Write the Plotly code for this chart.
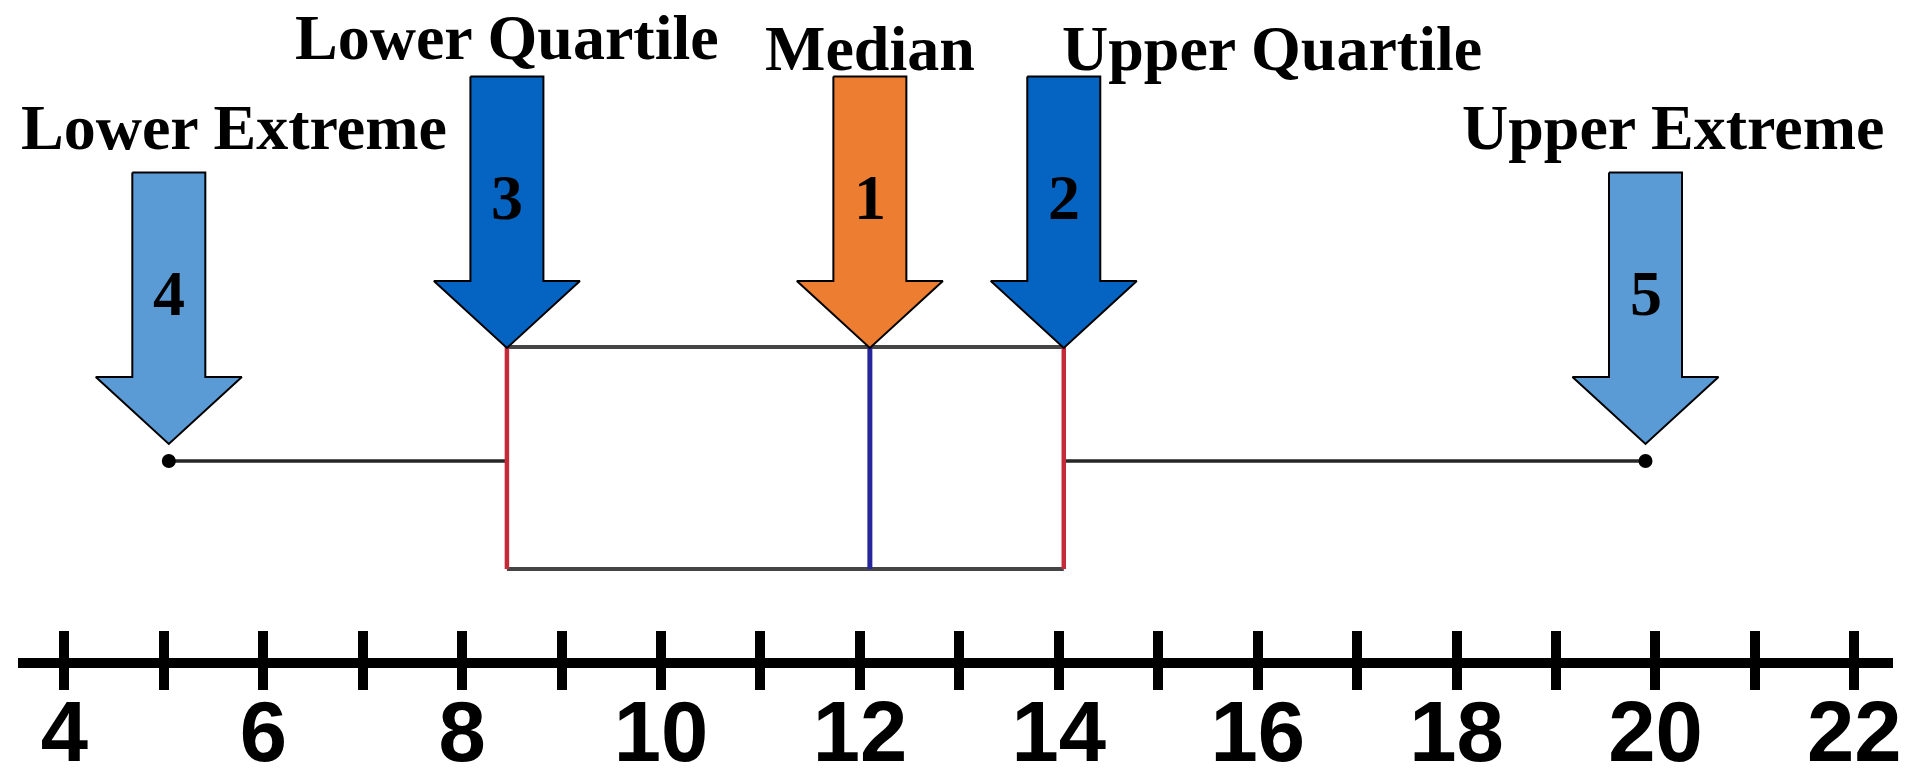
import plotly.graph_objects as go

# ---------------- data ----------------
tick_values = list(range(4, 23))                      # every integer on the number line
tick_labels = [str(v) if v % 2 == 0 else "" for v in tick_values]

stat_names = ["Lower Extreme", "Lower Quartile", "Median", "Upper Quartile", "Upper Extreme"]
stat_values = [5.05, 8.45, 12.1, 14.05, 19.9]
stat_order = ["4", "3", "1", "2", "5"]                # number written in each arrow
arrow_colors = ["#5B9BD5", "#0563C1", "#ED7D31", "#0563C1", "#5B9BD5"]

lower_ext, q1, median, q3, upper_ext = stat_values

# ---------------- layout geometry ----------------
W, H = 1916, 782
ML, MR = 18, 23
X_RANGE = [3.5334, 22.3889]
PPU = (W - ML - MR) / (X_RANGE[1] - X_RANGE[0])      # pixels per unit on x

AXIS_ROW = 663          # pixel row of the number line
LABEL_ROW = 675         # pixel row of the tick-label axis
BOX_TOP, BOX_BOTTOM, WHISKER_Y = 347, 569, 461
ARROW_TIP_Y = [444, 348, 348, 348, 444]
ARROW_LEN, HEAD_H, HEAD_HALF, SHAFT_HALF = 271.5, 67, 73, 36.5
LABEL_Y = [127, 37, 48, 48, 127]
LABEL_DX = [65, 0, 0, 208, 27]

SERIF = dict(family="Liberation Serif", size=64, color="black", weight="bold")

fig = go.Figure()

# whiskers
for xs in ([lower_ext, q1], [q3, upper_ext]):
    fig.add_trace(go.Scatter(x=xs, y=[WHISKER_Y, WHISKER_Y], mode="lines",
                             line=dict(color="#262626", width=3.5),
                             hoverinfo="skip", showlegend=False))
# box top / bottom
for yy in (BOX_TOP, BOX_BOTTOM):
    fig.add_trace(go.Scatter(x=[q1, q3], y=[yy, yy], mode="lines",
                             line=dict(color="#454545", width=4),
                             hoverinfo="skip", showlegend=False))
# quartile edges (red) and median (blue)
for xv, col, w in ((q1, "#C42A3A", 4.5), (q3, "#C42A3A", 4.5), (median, "#26269A", 5)):
    fig.add_trace(go.Scatter(x=[xv, xv], y=[BOX_TOP, BOX_BOTTOM], mode="lines",
                             line=dict(color=col, width=w),
                             hoverinfo="skip", showlegend=False))
# extreme points
fig.add_trace(go.Scatter(x=[lower_ext, upper_ext], y=[WHISKER_Y, WHISKER_Y], mode="markers",
                         marker=dict(color="black", size=14),
                         hoverinfo="skip", showlegend=False))

# arrows
hh = HEAD_HALF / PPU
sh = SHAFT_HALF / PPU
for v, tip, col, num, name, ly, dx in zip(stat_values, ARROW_TIP_Y, arrow_colors,
                                          stat_order, stat_names, LABEL_Y, LABEL_DX):
    top = tip - ARROW_LEN
    base = tip - HEAD_H
    xs = [v - sh, v + sh, v + sh, v + hh, v, v - hh, v - sh, v - sh]
    ys = [top, top, base, base, tip, base, base, top]
    fig.add_trace(go.Scatter(x=xs, y=ys, mode="lines", fill="toself", fillcolor=col,
                             line=dict(color="black", width=2),
                             hoverinfo="skip", showlegend=False))
    fig.add_annotation(x=v, y=tip - 151, text=num, showarrow=False,
                       xanchor="center", yanchor="middle", font=SERIF)
    fig.add_annotation(x=v + dx / PPU, y=ly, text=name, showarrow=False,
                       xanchor="center", yanchor="middle", font=SERIF)

# invisible traces so the overlay axes are drawn
for ax in ("x2", "x3"):
    fig.add_trace(go.Scatter(x=[tick_values[0]], y=[0], xaxis=ax, mode="markers",
                             marker=dict(opacity=0), hoverinfo="skip", showlegend=False))

axis_pos = (H - AXIS_ROW) / H
label_pos = (H - LABEL_ROW) / H

fig.update_layout(
    width=W, height=H,
    margin=dict(l=ML, r=MR, t=0, b=0),
    paper_bgcolor="white", plot_bgcolor="white",
    xaxis=dict(range=X_RANGE, showgrid=False, zeroline=False, automargin=False,
               anchor="free", position=axis_pos,
               showline=True, linecolor="black", linewidth=10,
               tickmode="array", tickvals=tick_values, showticklabels=False,
               ticks="outside", ticklen=22, tickwidth=10, tickcolor="black"),
    xaxis2=dict(range=X_RANGE, overlaying="x", anchor="free", position=axis_pos, side="bottom",
                showgrid=False, zeroline=False, showline=False, automargin=False,
                tickmode="array", tickvals=tick_values, showticklabels=False,
                ticks="inside", ticklen=32, tickwidth=10, tickcolor="black"),
    xaxis3=dict(range=X_RANGE, overlaying="x", anchor="free", position=label_pos, side="bottom",
                showgrid=False, zeroline=False, showline=False, automargin=False,
                tickmode="array", tickvals=tick_values, ticktext=tick_labels, ticks="",
                tickfont=dict(family="Liberation Sans", size=85, color="black", weight="bold")),
    yaxis=dict(range=[H, 0], visible=False, showgrid=False, zeroline=False, automargin=False),
)

fig.write_html("out.html", config={"displayModeBar": False},
               post_script="document.body.style.margin='0';document.body.style.overflow='hidden';")
